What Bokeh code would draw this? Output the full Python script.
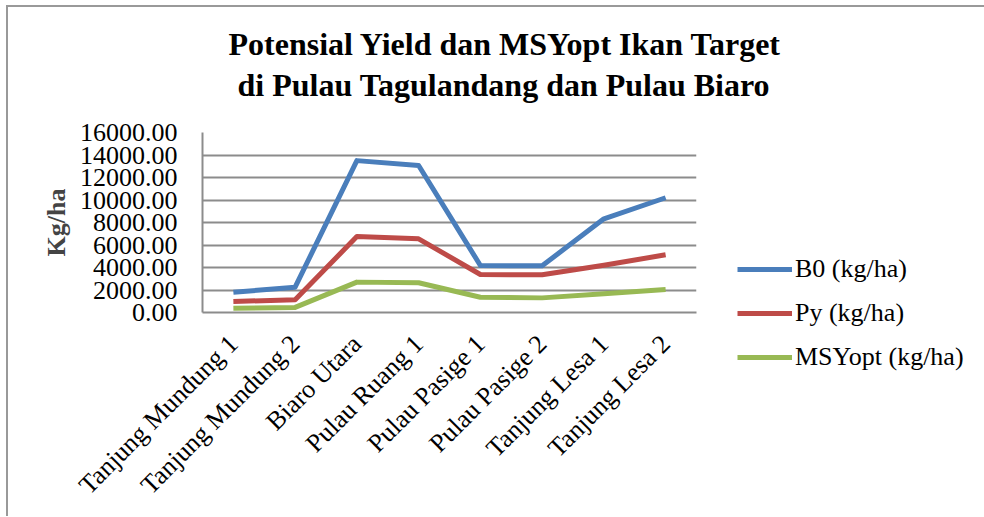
import math
from bokeh.plotting import figure
from bokeh.models import (FactorRange, Range1d, FixedTicker, PrintfTickFormatter,
                          Legend, LegendItem, ColumnDataSource, Title)
from bokeh.embed import file_html
from bokeh.resources import INLINE

categories = ["Tanjung Mundung 1", "Tanjung Mundung 2", "Biaro Utara", "Pulau Ruang 1",
              "Pulau Pasige 1", "Pulau Pasige 2", "Tanjung Lesa 1", "Tanjung Lesa 2"]
b0 = [1800, 2250, 13500, 13070, 4180, 4150, 8330, 10200]
py = [980, 1130, 6750, 6550, 3380, 3350, 4200, 5130]
msy = [380, 450, 2700, 2640, 1360, 1300, 1660, 2040]
y_ticks = [0, 2000, 4000, 6000, 8000, 10000, 12000, 14000, 16000]
series_names = ["B0 (kg/ha)", "Py (kg/ha)", "MSYopt (kg/ha)"]
colors = ["#4a7ebb", "#be4b48", "#98b954"]
title_lines = ["Potensial Yield dan MSYopt Ikan Target", "di Pulau Tagulandang dan Pulau Biaro"]

FONT = "Liberation Serif"
GRID = "#8c8c8c"

p = figure(output_backend="svg", toolbar_location=None,
           frame_width=494, frame_height=180,
           x_range=FactorRange(*categories, range_padding=0),
           y_range=Range1d(0, 16000),
           min_border_left=194, min_border_right=0, min_border_top=125,
           min_border_bottom=204)
p.styles = {"margin-left": "6px", "margin-top": "5px",
            "border-left": "2px solid #999999", "border-top": "2px solid #999999"}

p.title.text = ""
p.title.visible = False
# second title line sits nearest the frame, the first line above it
t2 = Title(text=title_lines[1], align="left", offset=35, standoff=59,
           text_font=FONT, text_font_size="32px", text_font_style="bold", text_color="black")
t1 = Title(text=title_lines[0], align="left", offset=26, standoff=-52,
           text_font=FONT, text_font_size="32px", text_font_style="bold", text_color="black")
p.add_layout(t2, "above")
p.add_layout(t1, "above")

p.outline_line_color = None
p.xgrid.grid_line_color = None
p.ygrid.grid_line_color = GRID
p.ygrid.grid_line_width = 2

p.yaxis.ticker = FixedTicker(ticks=y_ticks)
p.yaxis.formatter = PrintfTickFormatter(format="%.2f")
p.yaxis.axis_label = "Kg/ha"
p.yaxis.axis_label_text_font = FONT
p.yaxis.axis_label_text_font_style = "bold"
p.yaxis.axis_label_text_font_size = "26px"
p.yaxis.axis_label_standoff = 6
p.yaxis.major_label_standoff = 19
p.yaxis.minor_tick_line_color = None

for ax in (p.xaxis, p.yaxis):
    ax.axis_line_color = GRID
    ax.axis_line_width = 2
    ax.major_tick_line_color = None
    ax.major_label_text_font = FONT
    ax.major_label_text_font_size = "26px"
    ax.major_label_text_color = "black"

p.xaxis.major_label_orientation = math.pi / 4
p.xaxis.major_label_standoff = 21

src = ColumnDataSource(dict(cat=categories, b0=b0, py=py, msy=msy))
renderers = []
for col, c in zip(["b0", "py", "msy"], colors):
    r = p.line("cat", col, source=src, line_color=c, line_width=5, line_join="round")
    renderers.append(r)

legend = Legend(items=[LegendItem(label=n, renderers=[r]) for n, r in zip(series_names, renderers)],
                location=(41, -60))
legend.border_line_color = None
legend.background_fill_alpha = 0
legend.padding = 0
legend.margin = 0
legend.glyph_width = 55
legend.glyph_height = 24
legend.label_height = 24
legend.spacing = 14
legend.label_standoff = 3
legend.label_text_font = FONT
legend.label_text_font_size = "26px"
legend.label_text_color = "black"
p.add_layout(legend, "right")

open("out.html", "w").write(file_html(p, INLINE))
